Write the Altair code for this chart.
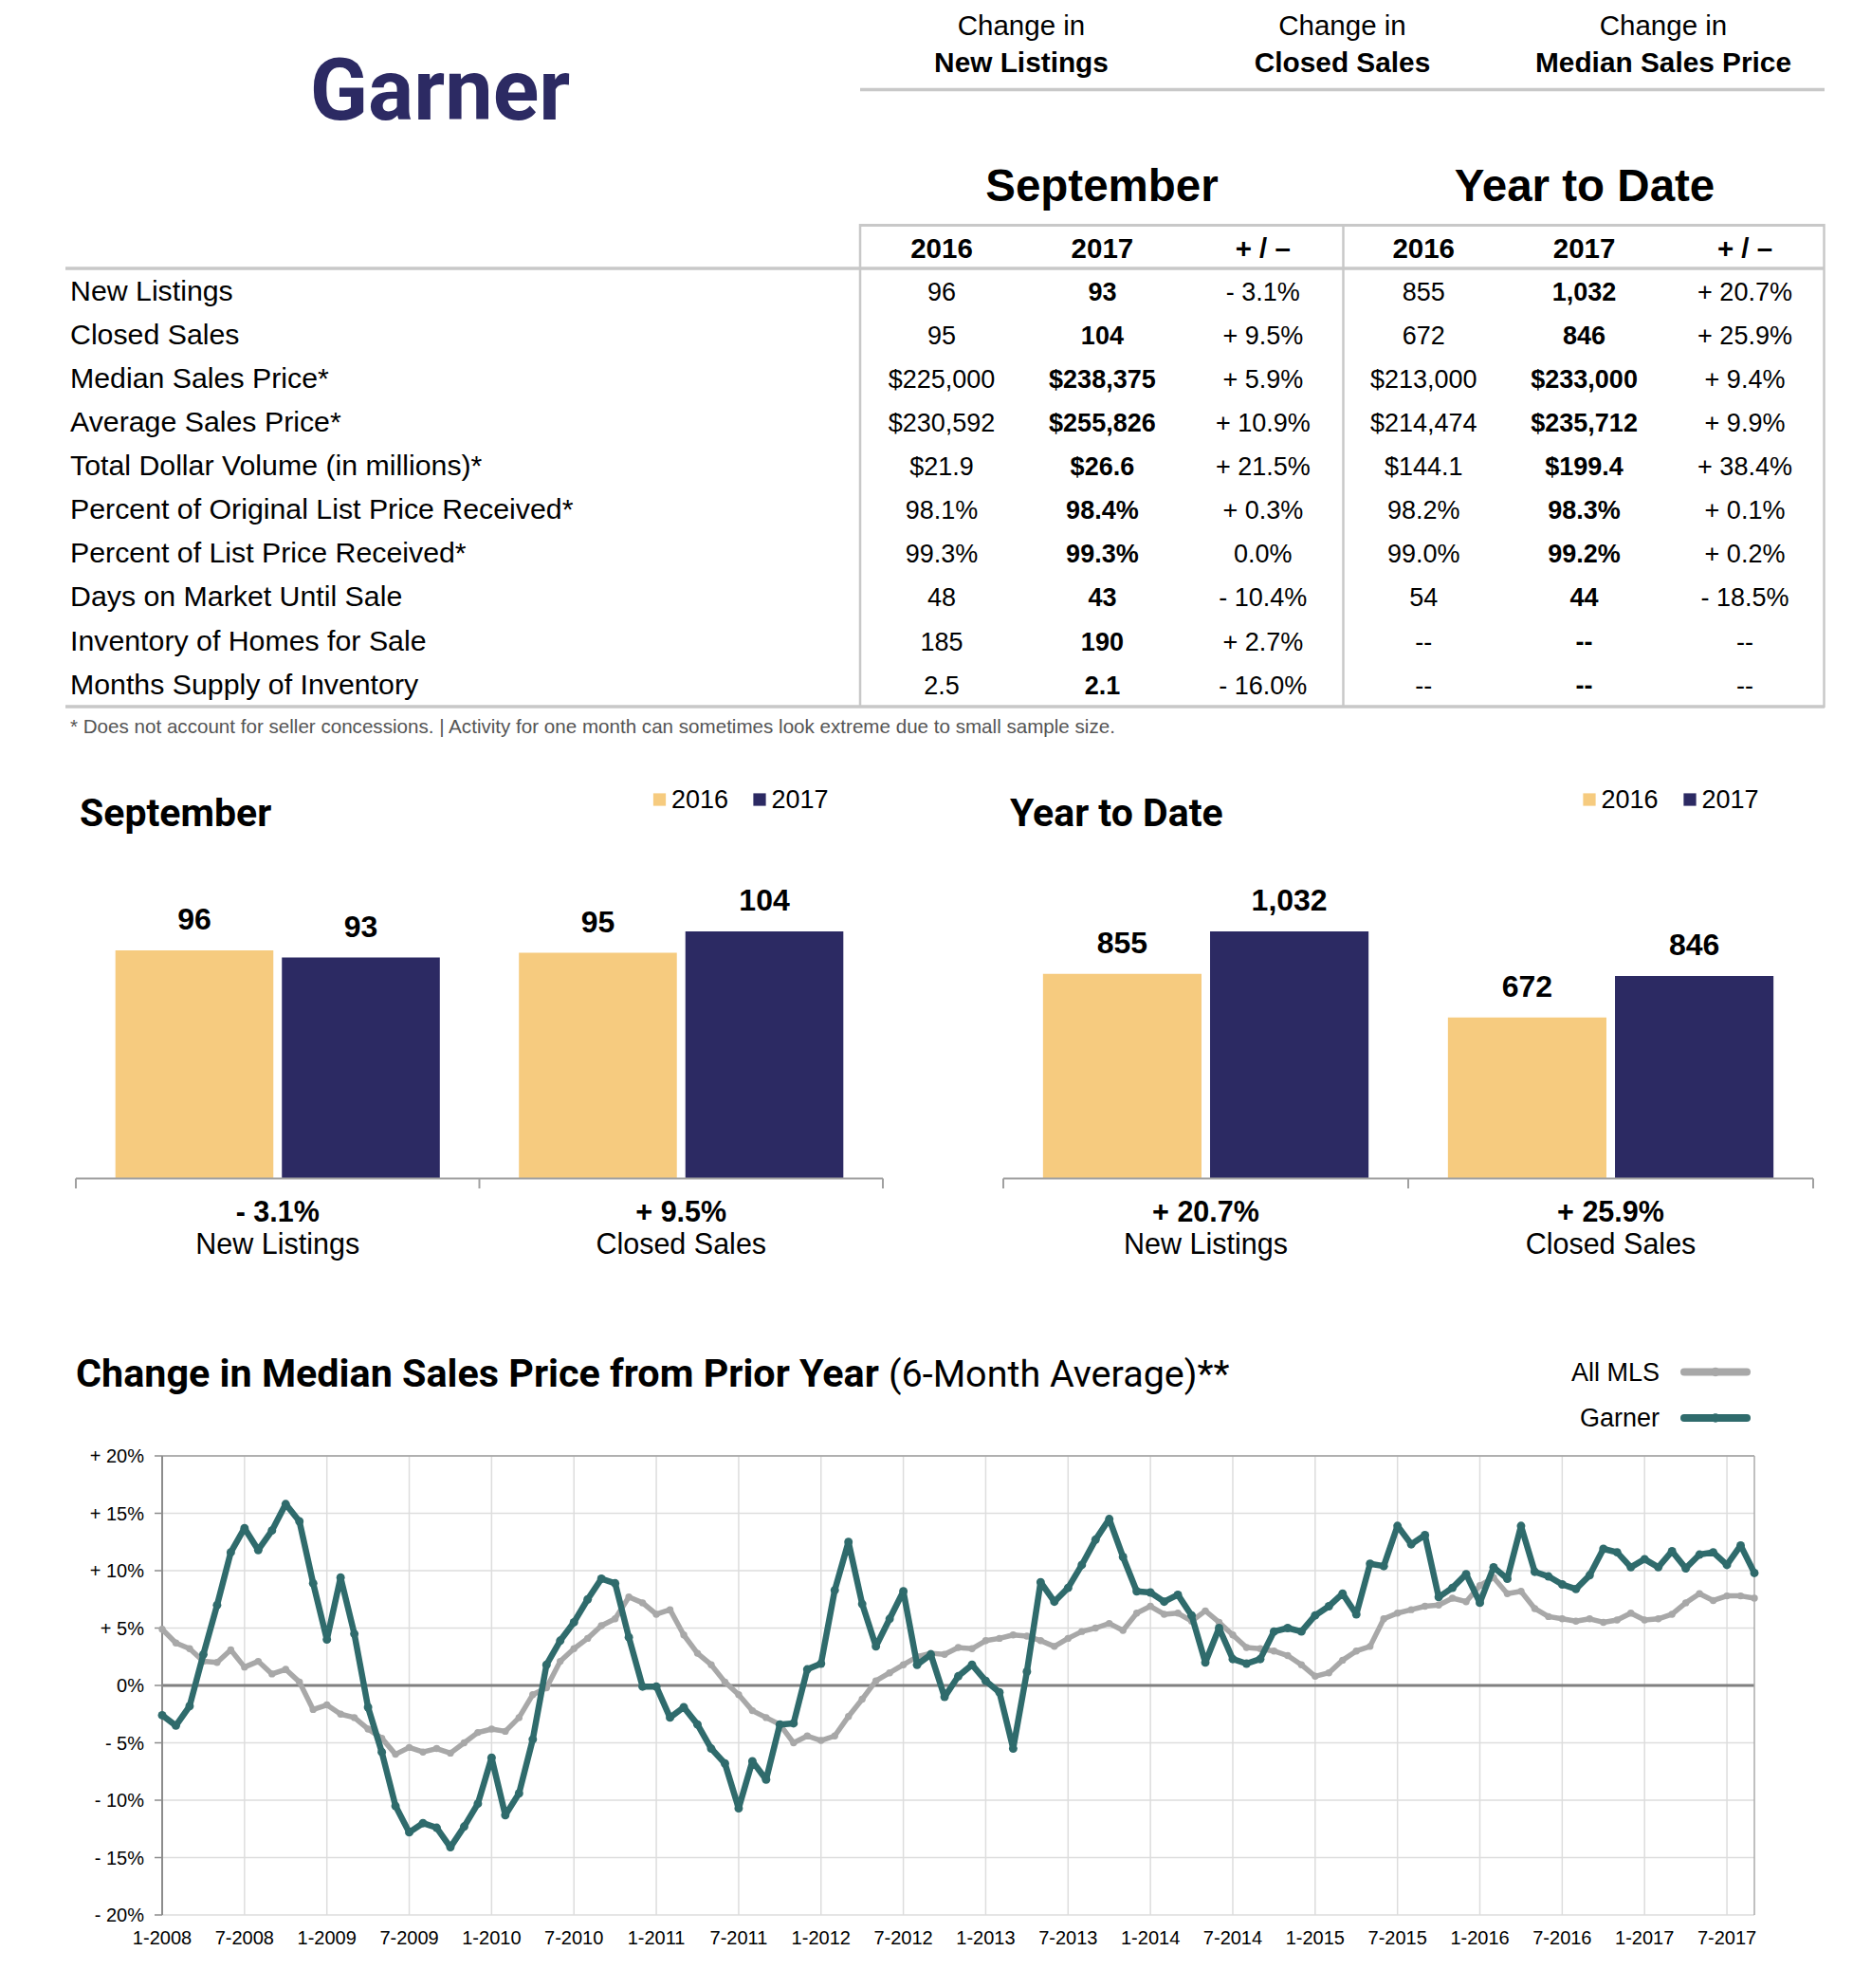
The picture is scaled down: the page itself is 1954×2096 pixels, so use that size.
import altair as alt
import pandas as pd

# ---------------- data ----------------
place = "Garner"
header_top = ["Change in", "Change in", "Change in"]
header_bottom = ["New Listings", "Closed Sales", "Median Sales Price"]

period_titles = ["September", "Year to Date"]
table_cols = ["2016", "2017", "+ / –", "2016", "2017", "+ / –"]
metrics = ["New Listings", "Closed Sales", "Median Sales Price*", "Average Sales Price*",
           "Total Dollar Volume (in millions)*", "Percent of Original List Price Received*",
           "Percent of List Price Received*", "Days on Market Until Sale",
           "Inventory of Homes for Sale", "Months Supply of Inventory"]
sep_2016 = ["96", "95", "$225,000", "$230,592", "$21.9", "98.1%", "99.3%", "48", "185", "2.5"]
sep_2017 = ["93", "104", "$238,375", "$255,826", "$26.6", "98.4%", "99.3%", "43", "190", "2.1"]
sep_chg = ["- 3.1%", "+ 9.5%", "+ 5.9%", "+ 10.9%", "+ 21.5%", "+ 0.3%", "0.0%", "- 10.4%", "+ 2.7%", "- 16.0%"]
ytd_2016 = ["855", "672", "$213,000", "$214,474", "$144.1", "98.2%", "99.0%", "54", "--", "--"]
ytd_2017 = ["1,032", "846", "$233,000", "$235,712", "$199.4", "98.3%", "99.2%", "44", "--", "--"]
ytd_chg = ["+ 20.7%", "+ 25.9%", "+ 9.4%", "+ 9.9%", "+ 38.4%", "+ 0.1%", "+ 0.2%", "- 18.5%", "--", "--"]
footnote = ("* Does not account for seller concessions.  |  Activity for one month can "
            "sometimes look extreme due to small sample size.")

bar_metrics = ["New Listings", "Closed Sales"]
bar_years = ["2016", "2017"]
sep_bar_2016 = [96, 95]
sep_bar_2017 = [93, 104]
sep_bar_change = ["- 3.1%", "+ 9.5%"]
ytd_bar_2016 = [855, 672]
ytd_bar_2017 = [1032, 846]
ytd_bar_change = ["+ 20.7%", "+ 25.9%"]

line_title_bold = "Change in Median Sales Price from Prior Year"
line_title_rest = "(6-Month Average)**"
series_names = ["All MLS", "Garner"]
# monthly values, 1-2008 .. 9-2017
all_mls = [4.9, 3.7, 3.2, 2.1, 2.0, 3.1, 1.6, 2.1, 1.0, 1.4, 0.3, -2.1,
           -1.7, -2.5, -2.8, -3.8, -4.6, -6.0, -5.4, -5.8, -5.5, -5.9, -5.0, -4.1,
           -3.8, -4.0, -2.8, -0.8, -0.2, 2.1, 3.2, 4.1, 5.2, 5.8, 7.7, 7.2,
           6.2, 6.6, 4.4, 2.8, 1.8, 0.3, -0.8, -2.2, -2.8, -3.4, -5.0, -4.4,
           -4.8, -4.4, -2.7, -1.2, 0.4, 1.1, 1.8, 2.5, 2.8, 2.7, 3.3, 3.2,
           3.9, 4.1, 4.4, 4.3, 3.9, 3.4, 4.1, 4.7, 5.0, 5.4, 4.8, 6.3,
           6.9, 6.2, 6.3, 5.6, 6.5, 5.5, 4.4, 3.3, 3.2, 3.0, 2.6, 1.8,
           0.8, 1.1, 2.2, 3.0, 3.4, 5.8, 6.3, 6.6, 6.9, 7.0, 7.6, 7.3,
           8.7, 9.4, 8.0, 8.2, 6.7, 6.0, 5.8, 5.6, 5.8, 5.5, 5.7, 6.3,
           5.7, 5.8, 6.2, 7.2, 8.0, 7.4, 7.8, 7.8, 7.6]
garner = [-2.6, -3.5, -1.8, 2.7, 7.0, 11.6, 13.7, 11.8, 13.5, 15.8, 14.3, 8.9,
          4.0, 9.4, 4.5, -1.9, -5.8, -10.5, -12.8, -12.0, -12.4, -14.1, -12.3, -10.3,
          -6.3, -11.3, -9.4, -4.7, 1.8, 3.9, 5.5, 7.5, 9.3, 8.9, 4.2, -0.1,
          -0.1, -2.8, -1.9, -3.4, -5.5, -6.8, -10.7, -6.6, -8.2, -3.4, -3.3, 1.4,
          1.9, 8.3, 12.5, 7.1, 3.4, 5.8, 8.2, 1.8, 2.7, -1.0, 0.8, 1.8,
          0.4, -0.6, -5.5, 1.2, 9.0, 7.3, 8.5, 10.5, 12.7, 14.5, 11.2, 8.2,
          8.1, 7.3, 7.9, 6.1, 2.0, 5.0, 2.3, 1.9, 2.3, 4.7, 5.0, 4.7,
          6.1, 6.9, 8.0, 6.2, 10.6, 10.4, 13.9, 12.3, 13.1, 7.7, 8.5, 9.7,
          7.2, 10.3, 9.3, 13.9, 9.9, 9.5, 8.8, 8.4, 9.6, 11.9, 11.6, 10.3,
          11.0, 10.3, 11.7, 10.2, 11.4, 11.6, 10.5, 12.2, 9.8]
x_tick_months = [0, 6, 12, 18, 24, 30, 36, 42, 48, 54, 60, 66, 72, 78, 84, 90, 96, 102, 108, 114]
x_tick_labels = ["1-2008", "7-2008", "1-2009", "7-2009", "1-2010", "7-2010", "1-2011", "7-2011",
                 "1-2012", "7-2012", "1-2013", "7-2013", "1-2014", "7-2014", "1-2015", "7-2015",
                 "1-2016", "7-2016", "1-2017", "7-2017"]
y_tick_values = [20, 15, 10, 5, 0, -5, -10, -15, -20]
y_tick_labels = ["+ 20%", "+ 15%", "+ 10%", "+ 5%", "0%", "- 5%", "- 10%", "- 15%", "- 20%"]

# ---------------- layout helpers ----------------
W, H = 1938, 2072


def P(v):
    return v - 8


SANS = "Liberation Sans, Arial, Helvetica, sans-serif"
COND = "Roboto, Liberation Sans, sans-serif"
NAVY = "#2C2A63"
GOLD = "#F6CB7F"
TEAL = "#2F6B6C"
GREY = "#A8A8A8"
LINEC = "#C8C8C8"

one = pd.DataFrame({"t": [""]})


def txt(text, x, y, size, weight="normal", font=SANS, color="#000000", align="left"):
    return alt.Chart(pd.DataFrame({"t": [text]})).mark_text(
        align=align, baseline="alphabetic", fontSize=size, fontWeight=weight,
        font=font, color=color).encode(x=alt.value(P(x)), y=alt.value(P(y)), text="t:N")


def hrule(x1, x2, y, color, w):
    return alt.Chart(one).mark_rule(color=color, strokeWidth=w).encode(
        x=alt.value(P(x1)), x2=alt.value(P(x2)), y=alt.value(P(y)))


def vrule(x, y1, y2, color, w):
    return alt.Chart(one).mark_rule(color=color, strokeWidth=w).encode(
        x=alt.value(P(x)), y=alt.value(P(y1)), y2=alt.value(P(y2)))


def lin(d0, d1, r0, r1):
    return alt.Scale(domain=[d0, d1], range=[P(r0), P(r1)], nice=False, zero=False)


layers = []

# ---------------- header ----------------
layers.append(txt(place, 464, 126, 90, "bold", COND, NAVY, "center"))
layers.append(hrule(907, 1924, 1.5, "#E6E6E6", 2))
layers.append(hrule(907, 1924, 94.5, LINEC, 3.5))
hdr = pd.DataFrame({"ci": [0, 1, 2], "top": header_top, "bottom": header_bottom})
hx = alt.X("ci:Q", scale=lin(0, 2, 1077, 1754), axis=None)
layers.append(alt.Chart(hdr).mark_text(align="center", baseline="alphabetic", fontSize=29.5,
                                       font=SANS, color="#000000")
              .encode(x=hx, y=alt.value(P(37)), text="top:N"))
layers.append(alt.Chart(hdr).mark_text(align="center", baseline="alphabetic", fontSize=29.8,
                                       fontWeight="bold", font=SANS, color="#000000")
              .encode(x=hx, y=alt.value(P(76)), text="bottom:N"))

# ---------------- table ----------------
layers.append(txt(period_titles[0], 1162, 212, 47.5, "bold", SANS, "#000000", "center"))
layers.append(txt(period_titles[1], 1671, 212, 47.5, "bold", SANS, "#000000", "center"))

colx = lin(0, 5, 993, 1840)
rowy = lin(0, 9, 316.5, 731.7)
cols_df = pd.DataFrame({"c": list(range(6)), "lab": table_cols})
layers.append(alt.Chart(cols_df).mark_text(align="center", baseline="alphabetic", fontSize=29.5,
                                           fontWeight="bold", font=SANS, color="#000000")
              .encode(x=alt.X("c:Q", scale=colx, axis=None), y=alt.value(P(272)), text="lab:N"))

rows_df = pd.DataFrame({"r": list(range(10)), "m": metrics})
layers.append(alt.Chart(rows_df).mark_text(align="left", baseline="alphabetic", fontSize=30.3,
                                           font=SANS, color="#000000")
              .encode(x=alt.value(P(74)), y=alt.Y("r:Q", scale=rowy, axis=None), text="m:N"))

cells = []
for c, col in enumerate([sep_2016, sep_2017, sep_chg, ytd_2016, ytd_2017, ytd_chg]):
    for r, v in enumerate(col):
        cells.append({"r": r, "c": c, "v": v, "b": c in (1, 4)})
cells_df = pd.DataFrame(cells)
for is_bold in (False, True):
    layers.append(alt.Chart(cells_df[cells_df["b"] == is_bold]).mark_text(
        align="center", baseline="alphabetic", fontSize=27,
        fontWeight="bold" if is_bold else "normal", font=SANS, color="#000000")
        .encode(x=alt.X("c:Q", scale=colx, axis=None), y=alt.Y("r:Q", scale=rowy, axis=None),
                text="v:N"))

layers.append(hrule(907, 1924, 237.5, LINEC, 3))
layers.append(hrule(69, 1924, 283, LINEC, 3.5))
layers.append(hrule(69, 1924, 745, LINEC, 3.5))
for vx in (907, 1416.5, 1923.5):
    layers.append(vrule(vx, 236, 746, LINEC, 2.5))
layers.append(txt(footnote, 74, 773, 20.6, "normal", SANS, "#555555"))

# ---------------- bar panels ----------------
colsc = alt.Scale(domain=bar_years, range=[GOLD, NAVY])
BASE = 1242.5


def bar_panel(title, tx, v16, v17, changes, x0, x1, ymax, top_value, lx0, lx1):
    out = []
    out.append(txt(title, tx, 871, 41, "bold", COND, "#000000"))
    rows = []
    for i, mname in enumerate(bar_metrics):
        rows.append({"metric": mname, "year": "2016", "value": v16[i], "label": f"{v16[i]:,}"})
        rows.append({"metric": mname, "year": "2017", "value": v17[i], "label": f"{v17[i]:,}"})
    df = pd.DataFrame(rows)
    k = 260.5 / top_value
    xsc = alt.Scale(domain=bar_metrics, range=[P(x0), P(x1)], paddingInner=0.196, paddingOuter=0.098)
    ysc = alt.Scale(domain=[0, ymax], range=[P(BASE), P(BASE - ymax * k)], nice=False, zero=True)
    off = alt.XOffset("year:N", scale=alt.Scale(domain=bar_years, paddingInner=0.0513, paddingOuter=0))
    off_txt = alt.XOffset("year:N", scale=alt.Scale(type="point", domain=bar_years, padding=0.474))
    xe = alt.X("metric:N", scale=xsc, axis=None)
    ye = alt.Y("value:Q", scale=ysc, axis=None)
    out.append(alt.Chart(df).mark_bar().encode(
        x=xe, xOffset=off, y=ye, color=alt.Color("year:N", scale=colsc, legend=None)))
    out.append(alt.Chart(df).mark_text(align="center", baseline="alphabetic", dy=-22, fontSize=32,
                                       fontWeight="bold", font=SANS, color="#000000")
               .encode(x=xe, xOffset=off_txt, y=ye, text="label:N"))
    cat = pd.DataFrame({"metric": bar_metrics, "chg": changes})
    out.append(alt.Chart(cat).mark_text(align="center", baseline="alphabetic", fontSize=30.5,
                                        fontWeight="bold", font=SANS, color="#000000")
               .encode(x=xe, y=alt.value(P(1287.5)), text="chg:N"))
    out.append(alt.Chart(cat).mark_text(align="center", baseline="alphabetic", fontSize=30.5,
                                        font=SANS, color="#000000")
               .encode(x=xe, y=alt.value(P(1321.5)), text="metric:N"))
    out.append(hrule(x0, x1, BASE, "#A0A0A0", 2))
    ticks = pd.DataFrame({"i": [0, 1, 2]})
    out.append(alt.Chart(ticks).mark_rule(color="#A0A0A0", strokeWidth=2).encode(
        x=alt.X("i:Q", scale=lin(0, 2, x0, x1), axis=None), y=alt.value(P(BASE)),
        y2=alt.value(P(1253))))
    # legend
    leg = pd.DataFrame({"year": bar_years, "i": [0, 1]})
    lsc = alt.X("i:Q", scale=lin(0, 1, lx0, lx1), axis=None)
    out.append(alt.Chart(leg).mark_square(size=175, opacity=1).encode(
        x=lsc, y=alt.value(P(843)), color=alt.Color("year:N", scale=colsc, legend=None)))
    out.append(alt.Chart(leg).mark_text(align="left", baseline="alphabetic", dx=12.5, fontSize=27,
                                        font=SANS, color="#000000")
               .encode(x=lsc, y=alt.value(P(852)), text="year:N"))
    return out


layers += bar_panel(period_titles[0], 84, sep_bar_2016, sep_bar_2017, sep_bar_change,
                    80, 931, 120, max(sep_bar_2016 + sep_bar_2017), 695.5, 801)
layers += bar_panel(period_titles[1], 1065, ytd_bar_2016, ytd_bar_2017, ytd_bar_change,
                    1058, 1912, 1200, max(ytd_bar_2016 + ytd_bar_2017), 1676, 1782)

# ---------------- line chart ----------------
layers.append(txt(line_title_bold, 80, 1462, 41.3, "bold", COND, "#000000"))
layers.append(txt(line_title_rest, 937, 1462, 39.5, "normal", COND, "#000000"))

xs = lin(0, 116, 171, 1850)
ys = lin(-20, 20, 2019, 1535)
ytk = pd.DataFrame({"v": y_tick_values, "lab": y_tick_labels})
xtk = pd.DataFrame({"m": x_tick_months, "lab": x_tick_labels})

layers.append(alt.Chart(ytk).mark_rule(color="#DDDDDD", strokeWidth=1.5).encode(
    y=alt.Y("v:Q", scale=ys, axis=None), x=alt.value(P(171)), x2=alt.value(P(1850))))
layers.append(alt.Chart(xtk).mark_rule(color="#DDDDDD", strokeWidth=1.5).encode(
    x=alt.X("m:Q", scale=xs, axis=None), y=alt.value(P(1535)), y2=alt.value(P(2019))))
layers.append(alt.Chart(pd.DataFrame({"v": [0]})).mark_rule(color="#808080", strokeWidth=3).encode(
    y=alt.Y("v:Q", scale=ys, axis=None), x=alt.value(P(171)), x2=alt.value(P(1850))))
layers.append(alt.Chart(pd.DataFrame({"v": [20]})).mark_rule(color="#9E9E9E", strokeWidth=1.5).encode(
    y=alt.Y("v:Q", scale=ys, axis=None), x=alt.value(P(171)), x2=alt.value(P(1850))))
layers.append(alt.Chart(pd.DataFrame({"m": [116]})).mark_rule(color="#ABABAB", strokeWidth=1.5).encode(
    x=alt.X("m:Q", scale=xs, axis=None), y=alt.value(P(1535)), y2=alt.value(P(2019))))
layers.append(alt.Chart(pd.DataFrame({"m": [0]})).mark_rule(color="#8C8C8C", strokeWidth=2).encode(
    x=alt.X("m:Q", scale=xs, axis=None), y=alt.value(P(1535)), y2=alt.value(P(2019))))
layers.append(alt.Chart(ytk).mark_rule(color="#8C8C8C", strokeWidth=1.5).encode(
    y=alt.Y("v:Q", scale=ys, axis=None), x=alt.value(P(163)), x2=alt.value(P(171))))
layers.append(alt.Chart(ytk).mark_text(align="right", baseline="alphabetic", dy=7, fontSize=20,
                                       font=SANS, color="#000000")
              .encode(y=alt.Y("v:Q", scale=ys, axis=None), x=alt.value(P(152)), text="lab:N"))
layers.append(alt.Chart(xtk).mark_text(align="center", baseline="alphabetic", fontSize=20,
                                       font=SANS, color="#000000")
              .encode(x=alt.X("m:Q", scale=xs, axis=None), y=alt.value(P(2050)), text="lab:N"))

mls_df = pd.DataFrame({"m": list(range(len(all_mls))), "v": all_mls})
gar_df = pd.DataFrame({"m": list(range(len(garner))), "v": garner})
xe = alt.X("m:Q", scale=xs, axis=None)
ye = alt.Y("v:Q", scale=ys, axis=None)
layers.append(alt.Chart(mls_df).mark_line(color=GREY, strokeWidth=5.5, strokeJoin="round",
                                          strokeCap="round").encode(x=xe, y=ye))
layers.append(alt.Chart(mls_df).mark_circle(color=GREY, size=55, opacity=1).encode(x=xe, y=ye))
layers.append(alt.Chart(gar_df).mark_line(color=TEAL, strokeWidth=6.5, strokeJoin="round",
                                          strokeCap="round").encode(x=xe, y=ye))
layers.append(alt.Chart(gar_df).mark_circle(color=TEAL, size=80, opacity=1).encode(x=xe, y=ye))

# legend of the line chart
ser_df = pd.DataFrame({"s": series_names, "i": [0, 1]})
layers.append(alt.Chart(ser_df).mark_text(align="right", baseline="alphabetic", fontSize=27,
                                          font=SANS, color="#000000")
              .encode(x=alt.value(P(1750)), y=alt.Y("i:Q", scale=lin(0, 1, 1456, 1504), axis=None),
                      text="s:N"))
leg_rows = []
for i, s in enumerate(series_names):
    leg_rows.append({"s": s, "i": i, "p": 0})
    leg_rows.append({"s": s, "i": i, "p": 1})
leg_df = pd.DataFrame(leg_rows)
sersc = alt.Scale(domain=series_names, range=[GREY, TEAL])
lx = alt.X("p:Q", scale=lin(0, 1, 1776, 1842), axis=None)
ly = alt.Y("i:Q", scale=lin(0, 1, 1446.5, 1495), axis=None)
layers.append(alt.Chart(leg_df).mark_line(strokeWidth=8, strokeCap="round").encode(
    x=lx, y=ly, color=alt.Color("s:N", scale=sersc, legend=None)))
layers.append(alt.Chart(pd.DataFrame({"s": series_names, "i": [0, 1], "p": [0.5, 0.5]}))
              .mark_circle(size=90, opacity=1).encode(
    x=lx, y=ly, color=alt.Color("s:N", scale=sersc, legend=None)))

chart = alt.layer(*layers).resolve_scale(
    x="independent", y="independent", color="independent", xOffset="independent"
).properties(
    width=W, height=H, padding=0, background="white",
    autosize=alt.AutoSizeParams(type="none")
).configure_view(stroke="transparent")

chart.save("out.html", embed_options={"renderer": "svg", "actions": False})
